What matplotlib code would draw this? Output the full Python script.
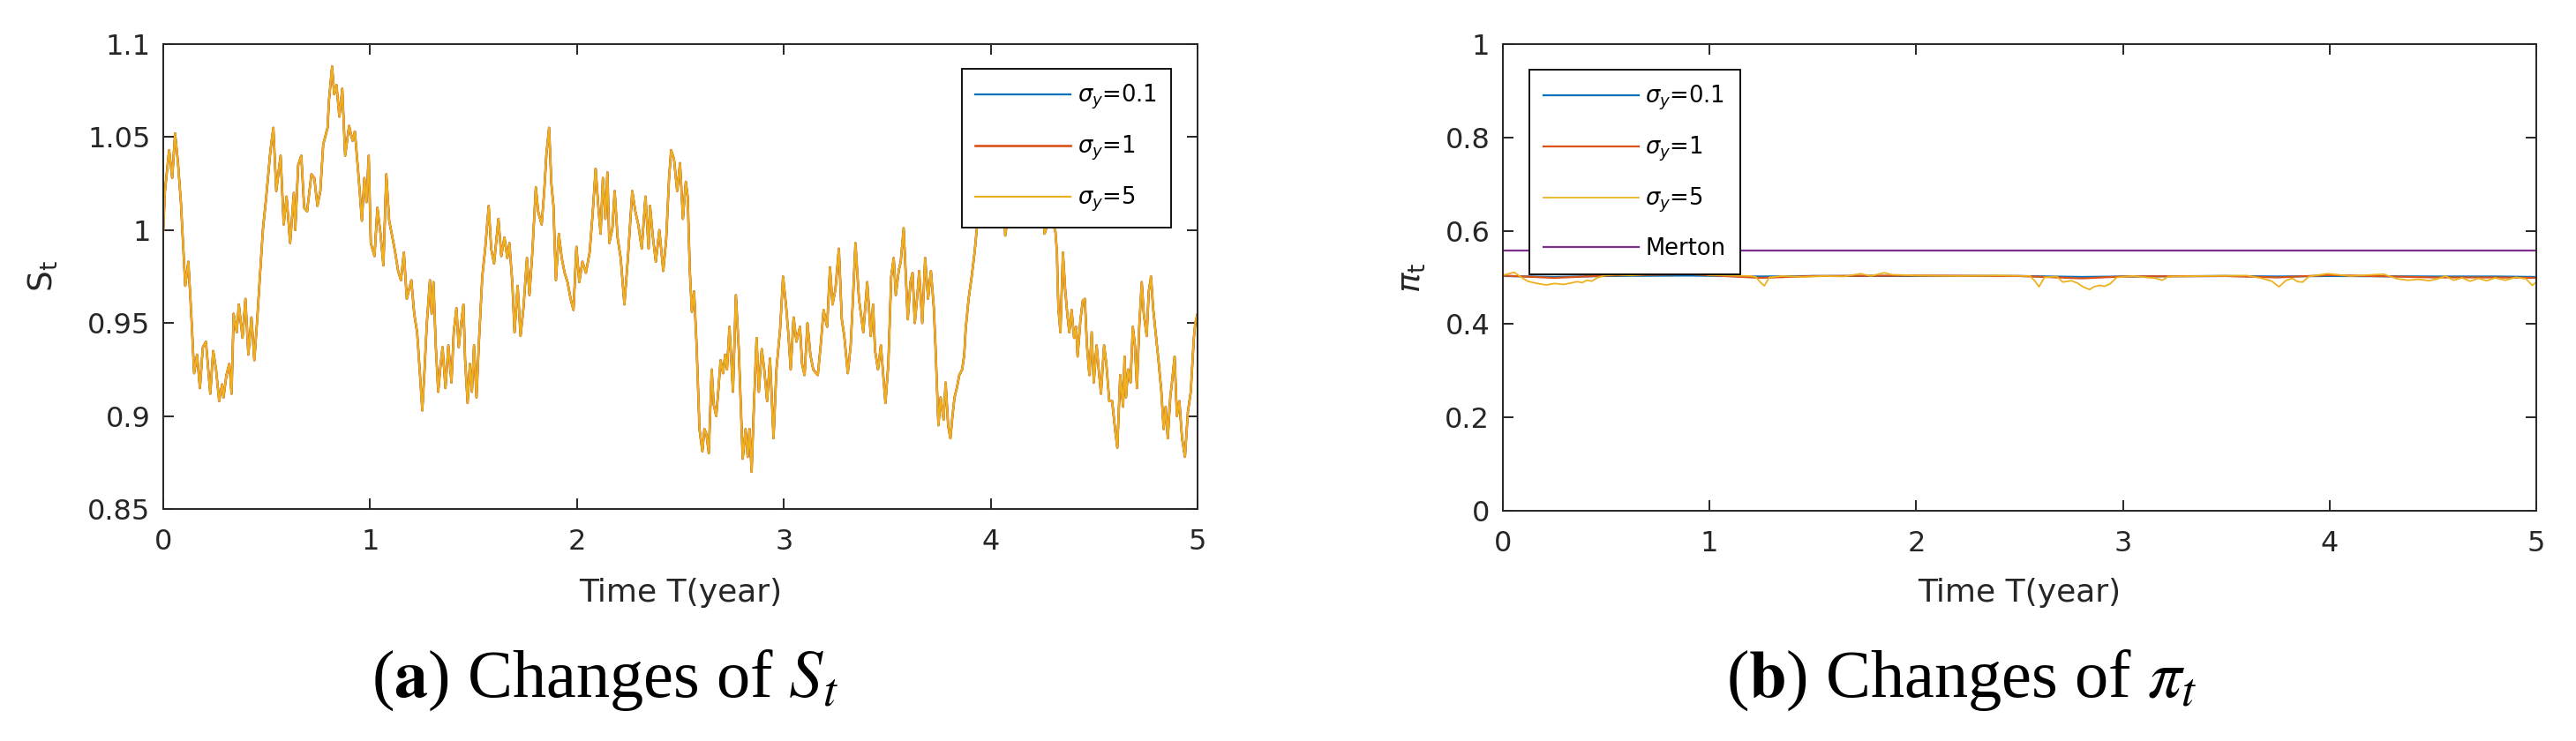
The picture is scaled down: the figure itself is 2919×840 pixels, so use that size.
import matplotlib
matplotlib.use("Agg")
import matplotlib.pyplot as plt
from matplotlib.ticker import FormatStrFormatter

# S_t path (the three sigma_y curves coincide to within the line width)
t_s = [0.000, 0.007, 0.028, 0.043, 0.057, 0.071, 0.085, 0.106, 0.121, 0.135, 0.149, 0.163, 0.177, 0.191,
       0.206, 0.227, 0.241, 0.255, 0.270, 0.284, 0.291, 0.305, 0.319, 0.330, 0.340, 0.355, 0.365, 0.383,
       0.397, 0.411, 0.426, 0.440, 0.454, 0.468, 0.482, 0.496, 0.518, 0.532, 0.546, 0.567, 0.582, 0.596,
       0.613, 0.631, 0.638, 0.652, 0.667, 0.681, 0.695, 0.716, 0.730, 0.745, 0.759, 0.773, 0.794, 0.801,
       0.816, 0.826, 0.837, 0.851, 0.865, 0.879, 0.898, 0.915, 0.926, 0.943, 0.960, 0.972, 0.982, 0.993,
       1.003, 1.021, 1.035, 1.050, 1.064, 1.078, 1.092, 1.106, 1.121, 1.135, 1.149, 1.163, 1.177, 1.199,
       1.213, 1.227, 1.241, 1.252, 1.262, 1.274,
       1.289, 1.297, 1.306, 1.317, 1.329, 1.340, 1.350, 1.364, 1.378, 1.393, 1.404, 1.417, 1.428, 1.440,
       1.451, 1.459, 1.471, 1.482, 1.492, 1.502, 1.514, 1.525, 1.542, 1.556, 1.573, 1.585, 1.599, 1.620,
       1.634, 1.649, 1.663, 1.673, 1.687, 1.698, 1.713, 1.727, 1.741, 1.758, 1.770, 1.784, 1.801, 1.812,
       1.829, 1.841, 1.852, 1.865, 1.876, 1.886, 1.898, 1.912, 1.926, 1.940, 1.954, 1.969, 1.983, 1.997,
       2.011, 2.026, 2.043, 2.061, 2.075, 2.090, 2.104, 2.114, 2.125, 2.137, 2.147, 2.156, 2.171, 2.182,
       2.196, 2.211, 2.229, 2.246, 2.267, 2.282, 2.296, 2.313, 2.331, 2.346, 2.353, 2.367, 2.381, 2.398,
       2.417, 2.431, 2.445, 2.455, 2.469, 2.484, 2.498, 2.512,
       2.526, 2.535, 2.545, 2.555, 2.566, 2.578, 2.592, 2.606, 2.616, 2.626, 2.637, 2.651, 2.661, 2.673,
       2.684, 2.694, 2.706, 2.716, 2.725, 2.737, 2.754, 2.768, 2.782, 2.801, 2.815, 2.825, 2.834, 2.844,
       2.855, 2.868, 2.879, 2.893, 2.905, 2.919, 2.933, 2.950, 2.964, 2.982, 2.996, 3.010, 3.021, 3.033,
       3.047, 3.061, 3.078, 3.088, 3.100, 3.114, 3.128, 3.142, 3.164, 3.178, 3.192, 3.209, 3.223, 3.235,
       3.249, 3.266, 3.280, 3.292, 3.309, 3.323, 3.334, 3.346, 3.363, 3.384, 3.403, 3.420, 3.431, 3.441,
       3.455, 3.469, 3.491, 3.505, 3.519, 3.531, 3.541, 3.555, 3.565, 3.579, 3.587, 3.599, 3.612, 3.622,
       3.633, 3.647, 3.654, 3.669, 3.683, 3.697, 3.711, 3.725, 3.733, 3.747,
       3.758, 3.772, 3.782, 3.794, 3.805, 3.815, 3.825, 3.836, 3.848, 3.862, 3.872, 3.879, 3.893, 3.908,
       3.922, 3.933, 3.950, 3.985, 4.020, 4.060, 4.070, 4.100, 4.150, 4.200, 4.250, 4.260, 4.290,
       4.313, 4.320, 4.327, 4.337, 4.349, 4.360, 4.370, 4.380, 4.391, 4.403, 4.413, 4.420, 4.434, 4.445,
       4.455, 4.465, 4.477, 4.488, 4.498, 4.512, 4.522, 4.533, 4.548, 4.559, 4.573, 4.587, 4.602, 4.612,
       4.626, 4.640, 4.647, 4.654, 4.664, 4.676, 4.687, 4.697, 4.707, 4.718, 4.730, 4.740, 4.754, 4.764,
       4.775, 4.785, 4.797, 4.811, 4.825, 4.836, 4.846, 4.856, 4.868, 4.878, 4.889, 4.900, 4.912, 4.925,
       4.939, 4.953, 4.967, 4.982, 4.989, 5.000]
s_vals = [1.000, 1.020, 1.043, 1.028, 1.052, 1.036, 1.015, 0.970, 0.983, 0.955, 0.923, 0.933, 0.915, 0.937,
          0.940, 0.912, 0.935, 0.925, 0.908, 0.917, 0.910, 0.922, 0.928, 0.912, 0.955, 0.945, 0.960, 0.942,
          0.963, 0.933, 0.953, 0.930, 0.952, 0.977, 1.001, 1.016, 1.043, 1.055, 1.021, 1.040, 1.003, 1.018,
          0.993, 1.020, 1.000, 1.035, 1.040, 1.012, 1.010, 1.030, 1.028, 1.013, 1.021, 1.046, 1.055, 1.070,
          1.088, 1.073, 1.078, 1.061, 1.076, 1.040, 1.056, 1.048, 1.053, 1.030, 1.005, 1.028, 1.015, 1.040,
          0.993, 0.986, 1.012, 0.998, 0.981, 1.030, 1.005, 0.997, 0.988, 0.978, 0.973, 0.988, 0.963, 0.973,
          0.955, 0.945, 0.922, 0.903, 0.923, 0.950,
          0.973, 0.955, 0.972, 0.938, 0.913, 0.927, 0.937, 0.915, 0.938, 0.918, 0.945, 0.958, 0.937, 0.950,
          0.960, 0.930, 0.907, 0.928, 0.913, 0.938, 0.910, 0.938, 0.975, 0.990, 1.013, 0.990, 0.982, 1.006,
          0.986, 0.996, 0.985, 0.993, 0.972, 0.945, 0.970, 0.943, 0.958, 0.985, 0.965, 0.988, 1.023, 1.010,
          1.003, 1.020, 1.041, 1.055, 1.025, 1.013, 0.973, 0.998, 0.985, 0.977, 0.972, 0.963, 0.957, 0.991,
          0.972, 0.983, 0.977, 0.988, 1.008, 1.033, 1.011, 0.998, 1.028, 1.006, 1.031, 0.993, 1.001, 1.021,
          0.996, 0.985, 0.960, 0.985, 1.021, 1.010, 1.003, 0.990, 1.018, 0.990, 1.013, 0.996, 0.983, 1.000,
          0.978, 0.995, 1.028, 1.043, 1.038, 1.021, 1.036, 1.006,
          1.026, 1.018, 0.979, 0.956, 0.967, 0.938, 0.893, 0.881, 0.893, 0.890, 0.880, 0.925, 0.906, 0.900,
          0.915, 0.930, 0.923, 0.933, 0.925, 0.948, 0.913, 0.965, 0.936, 0.877, 0.893, 0.878, 0.893, 0.870,
          0.905, 0.942, 0.913, 0.936, 0.925, 0.908, 0.931, 0.888, 0.925, 0.947, 0.975, 0.960, 0.945, 0.925,
          0.953, 0.940, 0.948, 0.928, 0.922, 0.950, 0.933, 0.925, 0.922, 0.938, 0.957, 0.948, 0.980, 0.960,
          0.968, 0.990, 0.952, 0.943, 0.923, 0.938, 0.963, 0.993, 0.963, 0.945, 0.972, 0.943, 0.960, 0.935,
          0.925, 0.938, 0.907, 0.928, 0.975, 0.985, 0.965, 0.978, 0.983, 1.001, 0.981, 0.952, 0.972, 0.977,
          0.950, 0.967, 0.978, 0.950, 0.985, 0.963, 0.978, 0.958, 0.937, 0.895,
          0.910, 0.898, 0.918, 0.895, 0.888, 0.900, 0.910, 0.915, 0.922, 0.925, 0.933, 0.947, 0.963, 0.975,
          0.988, 1.001, 1.012, 1.026, 1.018, 1.032, 0.997, 1.020, 1.028, 1.015, 1.022, 0.998, 1.008,
          0.999, 0.988, 0.958, 0.945, 0.988, 0.968, 0.955, 0.945, 0.957, 0.942, 0.948, 0.932, 0.952, 0.962,
          0.963, 0.938, 0.922, 0.945, 0.918, 0.938, 0.925, 0.912, 0.938, 0.928, 0.908, 0.908, 0.892, 0.883,
          0.922, 0.905, 0.932, 0.910, 0.925, 0.918, 0.948, 0.938, 0.915, 0.948, 0.972, 0.955, 0.943, 0.967,
          0.975, 0.958, 0.945, 0.930, 0.913, 0.893, 0.905, 0.888, 0.910, 0.920, 0.932, 0.900, 0.908, 0.888,
          0.878, 0.902, 0.913, 0.942, 0.950, 0.955]

# pi_t paths
t_pi5 = [0.000, 0.030, 0.055, 0.080, 0.097, 0.120, 0.146, 0.180, 0.211, 0.250, 0.293, 0.330, 0.358, 0.385,
         0.407, 0.430, 0.456, 0.490, 0.550, 0.620, 0.700, 0.767, 0.800, 0.848, 0.900, 0.946, 0.995, 1.100,
         1.200, 1.224, 1.245, 1.265, 1.289, 1.350, 1.450, 1.550, 1.650, 1.730, 1.780, 1.845, 1.880, 2.000,
         2.200, 2.400, 2.550, 2.575, 2.594, 2.620, 2.680, 2.709, 2.750, 2.780, 2.806, 2.839, 2.860, 2.888,
         2.910, 2.937, 2.970, 3.050, 3.160, 3.190, 3.220, 3.400, 3.600, 3.673, 3.720, 3.755, 3.790, 3.820,
         3.845, 3.869, 3.900, 3.990, 4.100, 4.260, 4.327, 4.380, 4.430, 4.480, 4.523, 4.560, 4.600, 4.640,
         4.680, 4.720, 4.760, 4.800, 4.850, 4.900, 4.950, 4.980, 5.000]
pi_sigma5 = [0.505, 0.508, 0.511, 0.503, 0.498, 0.492, 0.489, 0.486, 0.484, 0.487, 0.485, 0.488, 0.491, 0.489,
             0.494, 0.492, 0.499, 0.504, 0.506, 0.504, 0.507, 0.512, 0.509, 0.514, 0.511, 0.512, 0.505, 0.504,
             0.503, 0.501, 0.490, 0.482, 0.500, 0.503, 0.501, 0.503, 0.502, 0.508, 0.503, 0.510, 0.506, 0.504,
             0.503, 0.504, 0.503, 0.492, 0.480, 0.500, 0.502, 0.490, 0.493, 0.488, 0.480, 0.474, 0.480, 0.483,
             0.481, 0.486, 0.500, 0.503, 0.498, 0.494, 0.502, 0.503, 0.504, 0.498, 0.492, 0.480, 0.494, 0.498,
             0.491, 0.490, 0.502, 0.508, 0.503, 0.507, 0.497, 0.494, 0.496, 0.493, 0.497, 0.503, 0.494, 0.499,
             0.492, 0.498, 0.493, 0.499, 0.494, 0.500, 0.497, 0.483, 0.490]
t_pi = [0.0, 0.25, 0.5, 0.9, 1.25, 1.5, 2.0, 2.5, 2.8, 3.0, 3.5, 3.75, 4.0, 4.5, 4.8, 5.0]
pi_sigma01 = [0.503, 0.501, 0.503, 0.504, 0.502, 0.503, 0.503, 0.503, 0.501, 0.502, 0.503, 0.502, 0.503,
              0.502, 0.502, 0.501]
pi_sigma1 = [0.504, 0.499, 0.504, 0.507, 0.499, 0.503, 0.504, 0.503, 0.498, 0.502, 0.503, 0.500, 0.505,
             0.500, 0.500, 0.499]
t_merton = [0.0, 5.0]
pi_merton = [0.558, 0.558]

labels = [r'$\sigma_y$=0.1', r'$\sigma_y$=1', r'$\sigma_y$=5']

GREY = '#262626'
C_BLUE, C_RED, C_YEL, C_PUR = '#0072BD', '#D95319', '#EDB120', '#7E2F8E'

plt.rcParams['font.family'] = 'DejaVu Sans'
plt.rcParams['mathtext.fontset'] = 'dejavusans'


def style_axes(ax):
    for sp in ax.spines.values():
        sp.set_color(GREY)
        sp.set_linewidth(1.4)
    ax.tick_params(direction='in', top=True, right=True, length=8.5, width=1.4,
                   colors=GREY, labelsize=23)
    ax.tick_params(axis='x', pad=16)
    ax.tick_params(axis='y', pad=10.5)
    ax.set_xlim(0, 5)
    ax.set_xticks([0, 1, 2, 3, 4, 5])


def legend(ax, handles, names, anchor, loc):
    leg = ax.legend(handles, names, loc=loc, bbox_to_anchor=anchor, borderaxespad=0,
                    fontsize=18.5, handlelength=4.2, handletextpad=0.3, labelspacing=1.0,
                    borderpad=0.62, fancybox=False, edgecolor='k', framealpha=1)
    leg.get_frame().set_linewidth(1.3)


fig = plt.figure(figsize=(29.19, 8.40), dpi=100)

# (a) S_t
ax1 = fig.add_axes([0.0634, 0.3131, 0.4015, 0.6274])
l1, = ax1.plot(t_s, s_vals, color=C_BLUE, lw=1.6)
l2, = ax1.plot(t_s, s_vals, color=C_RED, lw=1.9)
l3, = ax1.plot(t_s, s_vals, color=C_YEL, lw=1.6)
style_axes(ax1)
ax1.set_ylim(0.85, 1.1)
ax1.set_yticks([0.85, 0.9, 0.95, 1.0, 1.05, 1.1])
ax1.yaxis.set_major_formatter(FormatStrFormatter('%g'))
ax1.set_xlabel('Time T(year)', fontsize=26, color=GREY)
ax1.xaxis.set_label_coords(0.5, -0.148)
ax1.set_ylabel(r'S$_\mathregular{t}$', fontsize=27, color=GREY, va='center')
ax1.yaxis.set_label_coords(-0.116, 0.5)
legend(ax1, [l1, l2, l3], labels, (0.9744, 0.947), 'upper right')

# (b) pi_t
ax2 = fig.add_axes([0.5834, 0.3107, 0.4012, 0.6298])
m1, = ax2.plot(t_pi, pi_sigma01, color=C_BLUE, lw=1.6)
m2, = ax2.plot(t_pi, pi_sigma1, color=C_RED, lw=1.6)
m3, = ax2.plot(t_pi5, pi_sigma5, color=C_YEL, lw=1.3)
m4, = ax2.plot(t_merton, pi_merton, color=C_PUR, lw=1.6)
style_axes(ax2)
ax2.set_ylim(0, 1)
ax2.set_yticks([0, 0.2, 0.4, 0.6, 0.8, 1.0])
ax2.yaxis.set_major_formatter(FormatStrFormatter('%g'))
ax2.set_xlabel('Time T(year)', fontsize=26, color=GREY)
ax2.xaxis.set_label_coords(0.5, -0.1437)
ax2.set_ylabel(r'$\pi_\mathregular{t}$', fontsize=27, color=GREY, va='center')
ax2.yaxis.set_label_coords(-0.088, 0.5)
legend(ax2, [m1, m2, m3, m4], labels + ['Merton'], (0.0256, 0.945), 'upper left')

# sub-captions
cap = dict(ha='center', va='baseline', fontsize=55, family='Liberation Serif', math_fontfamily='stix')
fig.text(0.2348, 0.060, r'($\mathbf{a}$) Changes of $S_t$', **cap)
fig.text(0.7616, 0.060, r'($\mathbf{b}$) Changes of $\pi_t$', **cap)

fig.savefig('out.png', dpi=100, facecolor='white')
